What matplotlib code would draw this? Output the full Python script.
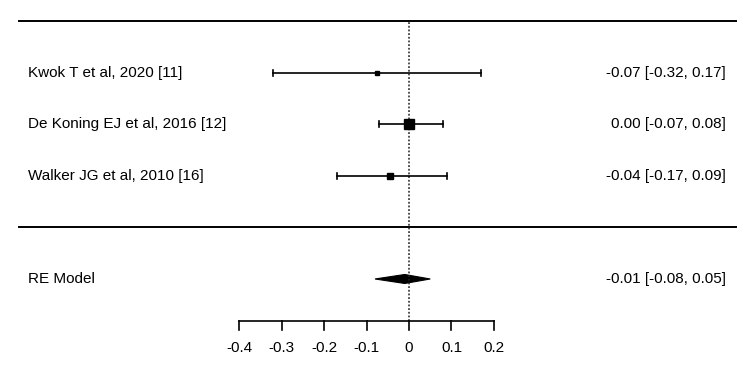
import matplotlib
matplotlib.use("Agg")
import matplotlib.pyplot as plt
from matplotlib.patches import Polygon

plt.rcParams['font.family'] = ['Liberation Sans', 'DejaVu Sans']

# study data
studies = ["Kwok T et al, 2020 [11]", "De Koning EJ et al, 2016 [12]", "Walker JG et al, 2010 [16]"]
estimates = [-0.075, 0.00, -0.045]
ci_low = [-0.32, -0.07, -0.17]
ci_high = [0.17, 0.08, 0.09]
weights = [4.0, 10.0, 6.0]   # marker size (relative, from square sizes)
labels_right = ["-0.07 [-0.32, 0.17]", "0.00 [-0.07, 0.08]", "-0.04 [-0.17, 0.09]"]

# pooled estimate
re_label = "RE Model"
re_est = -0.01
re_low = -0.08
re_high = 0.05
re_text = "-0.01 [-0.08, 0.05]"

xticks = [-0.4, -0.3, -0.2, -0.1, 0, 0.1, 0.2]
xtick_labels = ["-0.4", "-0.3", "-0.2", "-0.1", "0", "0.1", "0.2"]

fig = plt.figure(figsize=(7.5, 3.79), dpi=100)
ax = fig.add_axes([0, 0, 1, 1])
ax.set_xlim(-0.9624, 0.8024)
ax.set_ylim(-0.942, 6.417)
ax.axis("off")

rows = [5, 4, 3]
x_left_text = -0.9624 + 28 / 425
x_right_text = -0.9624 + 726 / 425
unit = 1 / 51.5  # one pixel in y units
lw = 1.2

# top and middle lines
ax.plot([-0.9624 + 19 / 425, -0.9624 + 736 / 425], [6, 6], color="black", lw=1.4)
ax.plot([-0.9624 + 19 / 425, -0.9624 + 736 / 425], [2, 2], color="black", lw=1.4)

# reference line at 0
ax.plot([0, 0], [0.184, 6], color="#222222", lw=1.1, linestyle=(0, (1.2, 1.2)))

for y, name, est, lo, hi, w, txt in zip(rows, studies, estimates, ci_low, ci_high, weights, labels_right):
    ax.plot([lo, hi], [y, y], color="black", lw=lw)
    ax.plot([lo, lo], [y - 3 * unit, y + 3 * unit], color="black", lw=lw)
    ax.plot([hi, hi], [y - 3 * unit, y + 3 * unit], color="black", lw=lw)
    ax.plot(est, y, marker="s", color="black", markersize=w * 0.75, linestyle="none")
    ax.text(x_left_text, y, name, ha="left", va="center", fontsize=11)
    ax.text(x_right_text, y, txt, ha="right", va="center", fontsize=11)

# diamond for RE model
half_h = 4.5 * unit
diamond = Polygon([[re_low, 1], [re_est, 1 + half_h], [re_high, 1], [re_est, 1 - half_h]],
                  closed=True, facecolor="black", edgecolor="black", lw=0.8)
ax.add_patch(diamond)
ax.text(x_left_text, 1, re_label, ha="left", va="center", fontsize=11)
ax.text(x_right_text, 1, re_text, ha="right", va="center", fontsize=11)

# x axis
axis_y = 0.184
ax.plot([xticks[0], xticks[-1]], [axis_y, axis_y], color="black", lw=lw)
for t, lab in zip(xticks, xtick_labels):
    ax.plot([t, t], [axis_y, axis_y - 9 * unit], color="black", lw=lw)
    ax.text(t, axis_y - 27 * unit, lab, ha="center", va="center", fontsize=11)

fig.savefig("out.png", dpi=100)
